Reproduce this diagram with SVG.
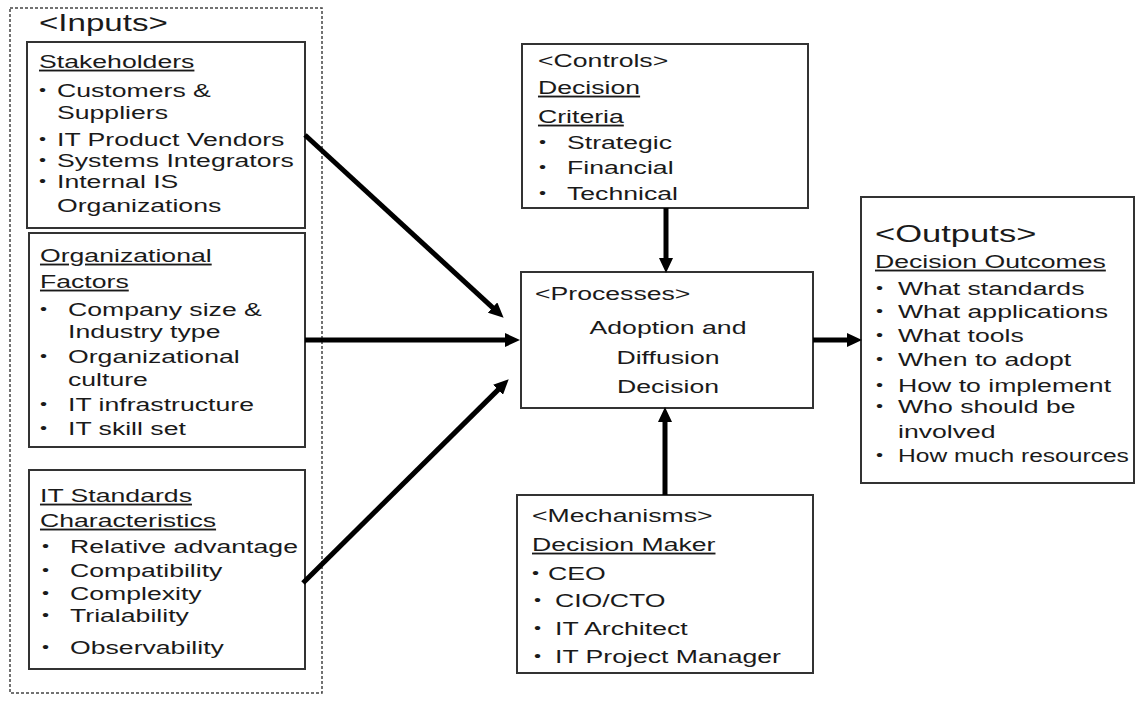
<svg xmlns="http://www.w3.org/2000/svg" width="1136" height="702" viewBox="0 0 1136 702">
  <style>
    .box { fill: #ffffff; stroke: #333333; stroke-width: 2; }
    .frame { fill: none; stroke: #444444; stroke-width: 1.5; stroke-dasharray: 3 2; }
    .t { font-family: "Liberation Sans", Arial, sans-serif; font-size: 18.5px; fill: #1a1a1a;
         transform-box: fill-box; transform-origin: 0 0; transform: scaleX(1.44); }
    .n { transform: scaleX(1.33); }
    .m { text-anchor: middle; transform-origin: 50% 0; }
    .h23 { font-size: 23px; }
    .h24 { font-size: 24px; }
    .u { text-decoration: underline; }
    .b { font-size: 14px; }
    .arrow { fill: none; stroke: #000000; stroke-width: 5; }
  </style>
  <defs>
    <marker id="head" markerUnits="userSpaceOnUse" markerWidth="15" markerHeight="14" refX="6" refY="7" orient="auto">
      <path d="M0,0 L15,7 L0,14 z" fill="#000000"/>
    </marker>
  </defs>

  <rect x="0" y="0" width="1136" height="702" fill="#ffffff"/>

  <!-- Inputs frame -->
  <g id="inputs">
    <rect class="frame" x="10" y="8" width="312" height="685"/>
    <text class="t h23" x="39" y="31">&lt;Inputs&gt;</text>
  </g>

  <!-- Stakeholders -->
  <g id="stakeholders">
    <rect class="box" x="27" y="42" width="278" height="186"/>
    <text class="t u" x="39" y="68">Stakeholders</text>
    <text class="t b" x="39" y="95">•</text>
    <text class="t" x="57" y="97">Customers &amp;</text>
    <text class="t" x="57" y="119">Suppliers</text>
    <text class="t b" x="39" y="144">•</text>
    <text class="t" x="57" y="146">IT Product Vendors</text>
    <text class="t b" x="39" y="165">•</text>
    <text class="t" x="57" y="167">Systems Integrators</text>
    <text class="t b" x="39" y="186">•</text>
    <text class="t" x="57" y="188">Internal IS</text>
    <text class="t" x="57" y="212">Organizations</text>
  </g>

  <!-- Organizational Factors -->
  <g id="org-factors">
    <rect class="box" x="29" y="233" width="276" height="214"/>
    <text class="t u" x="40" y="262">Organizational</text>
    <text class="t u" x="40" y="288">Factors</text>
    <text class="t b" x="40" y="314">•</text>
    <text class="t" x="68" y="316">Company size &amp;</text>
    <text class="t" x="68" y="338">Industry type</text>
    <text class="t b" x="40" y="361">•</text>
    <text class="t" x="68" y="363">Organizational</text>
    <text class="t" x="68" y="386">culture</text>
    <text class="t b" x="40" y="409">•</text>
    <text class="t" x="68" y="411">IT infrastructure</text>
    <text class="t b" x="40" y="433">•</text>
    <text class="t" x="68" y="435">IT skill set</text>
  </g>

  <!-- IT Standards Characteristics -->
  <g id="it-standards">
    <rect class="box" x="29" y="470" width="276" height="199"/>
    <text class="t u" x="40" y="502">IT Standards</text>
    <text class="t u" x="40" y="527">Characteristics</text>
    <text class="t b" x="42" y="551">•</text>
    <text class="t" x="70" y="553">Relative advantage</text>
    <text class="t b" x="42" y="575">•</text>
    <text class="t" x="70" y="577">Compatibility</text>
    <text class="t b" x="42" y="598">•</text>
    <text class="t" x="70" y="600">Complexity</text>
    <text class="t b" x="42" y="620">•</text>
    <text class="t" x="70" y="622">Trialability</text>
    <text class="t b" x="42" y="652">•</text>
    <text class="t" x="70" y="654">Observability</text>
  </g>

  <!-- Controls -->
  <g id="controls">
    <rect class="box" x="522" y="44" width="286" height="164"/>
    <text class="t" x="538" y="67">&lt;Controls&gt;</text>
    <text class="t u" x="538" y="94">Decision</text>
    <text class="t u" x="538" y="123">Criteria</text>
    <text class="t b" x="539" y="147">•</text>
    <text class="t" x="567" y="149">Strategic</text>
    <text class="t b" x="539" y="172">•</text>
    <text class="t" x="567" y="174">Financial</text>
    <text class="t b" x="539" y="198">•</text>
    <text class="t" x="567" y="200">Technical</text>
  </g>

  <!-- Processes -->
  <g id="processes">
    <rect class="box" x="521" y="272" width="292" height="136"/>
    <text class="t" x="535" y="300">&lt;Processes&gt;</text>
    <text class="t m" x="668" y="334">Adoption and</text>
    <text class="t m" x="668" y="364">Diffusion</text>
    <text class="t m" x="668" y="393">Decision</text>
  </g>

  <!-- Mechanisms -->
  <g id="mechanisms">
    <rect class="box" x="517" y="495" width="296" height="178"/>
    <text class="t" x="532" y="522">&lt;Mechanisms&gt;</text>
    <text class="t u" x="532" y="551">Decision Maker</text>
    <text class="t b" x="532" y="578">•</text>
    <text class="t" x="548" y="580">CEO</text>
    <text class="t b" x="534" y="605">•</text>
    <text class="t" x="555" y="607">CIO/CTO</text>
    <text class="t b" x="534" y="633">•</text>
    <text class="t" x="555" y="635">IT Architect</text>
    <text class="t b" x="534" y="661">•</text>
    <text class="t" x="555" y="663">IT Project Manager</text>
  </g>

  <!-- Outputs -->
  <g id="outputs">
    <rect class="box" x="861" y="197" width="273" height="286"/>
    <text class="t h24" x="875" y="242">&lt;Outputs&gt;</text>
    <text class="t u" x="875" y="268">Decision Outcomes</text>
    <text class="t b" x="876" y="293">•</text>
    <text class="t" x="898" y="295">What standards</text>
    <text class="t b" x="876" y="316">•</text>
    <text class="t" x="898" y="318">What applications</text>
    <text class="t b" x="876" y="340">•</text>
    <text class="t" x="898" y="342">What tools</text>
    <text class="t b" x="876" y="364">•</text>
    <text class="t" x="898" y="366">When to adopt</text>
    <text class="t b" x="876" y="390">•</text>
    <text class="t" x="898" y="392">How to implement</text>
    <text class="t b" x="876" y="411">•</text>
    <text class="t" x="898" y="413">Who should be</text>
    <text class="t" x="898" y="438">involved</text>
    <text class="t b" x="876" y="460">•</text>
    <text class="t n" x="898" y="462">How much resources</text>
  </g>

  <!-- Connectors -->
  <g id="connectors">
    <line class="arrow" x1="305" y1="135" x2="497" y2="311.6" marker-end="url(#head)"/>
    <line class="arrow" x1="305" y1="340" x2="511" y2="340" marker-end="url(#head)"/>
    <line class="arrow" x1="303" y1="583" x2="502.3" y2="385.6" marker-end="url(#head)"/>
    <line class="arrow" x1="666" y1="208" x2="666" y2="264" marker-end="url(#head)"/>
    <line class="arrow" x1="665" y1="495" x2="665" y2="416" marker-end="url(#head)"/>
    <line class="arrow" x1="813" y1="340" x2="853" y2="340" marker-end="url(#head)"/>
  </g>
</svg>
